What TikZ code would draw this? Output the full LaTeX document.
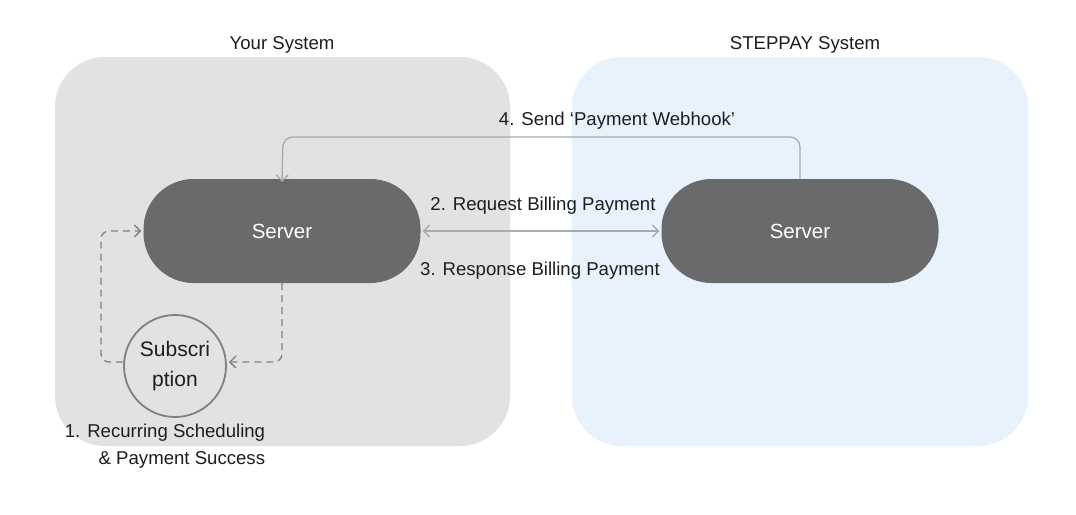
\documentclass[tikz,border=0pt]{standalone}
\usepackage{fontspec}
\setmainfont{Liberation Sans}
\usetikzlibrary{arrows.meta}
\definecolor{leftbg}{HTML}{E2E2E2}
\definecolor{rightbg}{HTML}{E8F2FD}
\definecolor{srv}{HTML}{6A6A6A}
\definecolor{conn}{HTML}{AAAAAA}
\definecolor{dash}{HTML}{808080}
\definecolor{txt}{HTML}{1E1E1E}
\begin{document}
\begin{tikzpicture}[x=1pt,y=-1pt,
  panel/.style={rounded corners=50pt},
  server/.style={fill=srv,rounded corners=50pt,minimum width=277pt,minimum height=104pt,text=white,font=\fontsize{20.5}{24}\selectfont,inner sep=0pt},
  lbl/.style={text=txt,font=\fontsize{18.6}{22}\selectfont,inner sep=0pt},
  solidconn/.style={draw=conn,line width=1.3pt,-{Straight Barb[length=6pt,width=12pt]},rounded corners=10pt},
  dashconn/.style={draw=dash,line width=1.3pt,dash pattern=on 7pt off 5pt,-{Straight Barb[length=6pt,width=12pt]},rounded corners=8pt}]
\useasboundingbox (0,0) rectangle (1076,514);
\fill[white] (0,0) rectangle (1076,514);
\fill[leftbg,panel] (55,57) rectangle (510,446);
\fill[rightbg,panel] (572,57) rectangle (1028,446);
\node[lbl] (ys) at (282,45) {Your System};
\node[lbl] (ss) at (805,45) {STEPPAY System};
\node[server] (s1) at (282,231) {Server};
\node[server] (s2) at (800,231) {Server};
\node[circle,draw=dash,line width=1.8pt,fill=leftbg,minimum size=102pt,inner sep=0pt,align=center,text=txt,font=\fontsize{21}{30}\selectfont] (sub) at (175,366) {Subscri\\ption};
\node[lbl,align=right,font=\fontsize{18.6}{27}\selectfont] (l1) at (165,446) {1. Recurring Scheduling\\\& Payment Success};
\node[lbl] (l2) at (543,206) {2. Request Billing Payment};
\node[lbl] (l3) at (540,271) {3. Response Billing Payment};
\node[lbl] (l4) at (617,121) {4. Send ‘Payment Webhook’};
\draw[solidconn,{Straight Barb[length=6pt,width=12pt]}-{Straight Barb[length=6pt,width=12pt]}] (s1.east) ++(2,0) coordinate (a1) -- ([xshift=-2pt]s2.west);
\draw[solidconn] (s2.north) -- (800,137) -- (283,137) -- ([yshift=-3pt]s1.north);
\draw[dashconn] (sub.west |- 0,362) coordinate (b0) -- (101,362) -- (101,231) -- ([xshift=-2pt]s1.west);
\draw[dashconn] (s1.south) -- (282,362) -- (229,362);
\end{tikzpicture}
\end{document}
